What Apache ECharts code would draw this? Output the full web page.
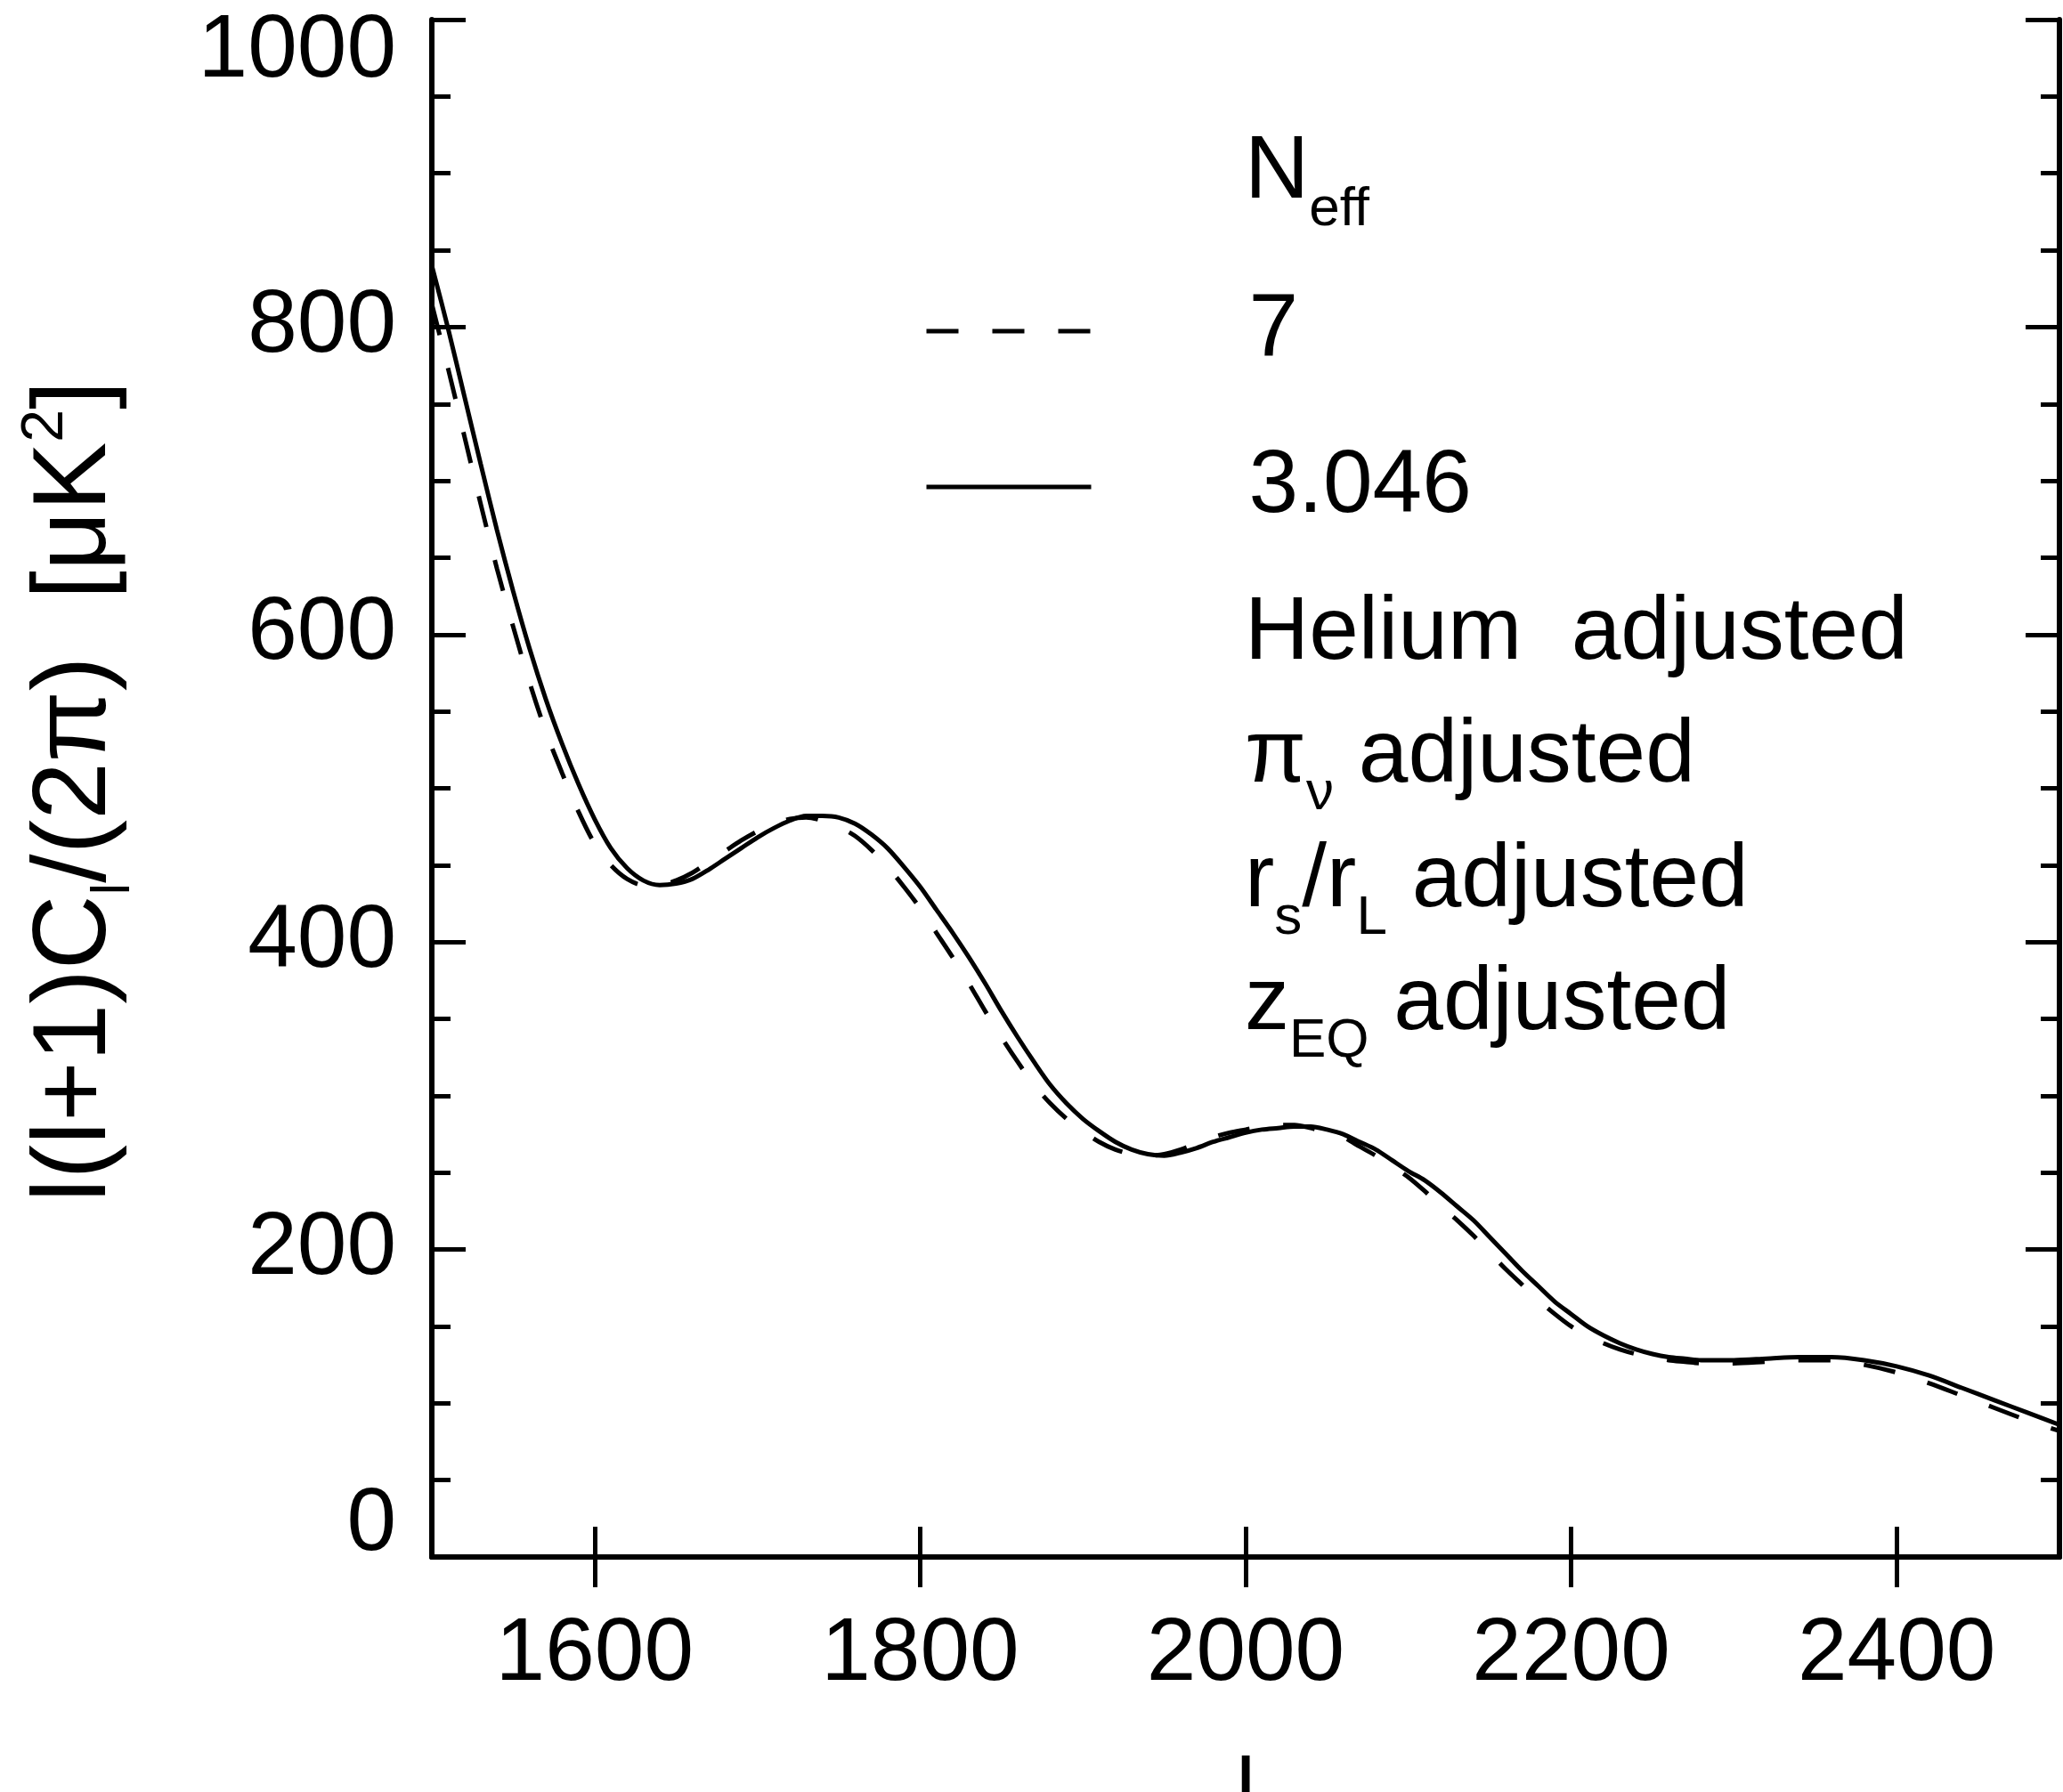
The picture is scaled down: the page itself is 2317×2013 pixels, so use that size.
<!DOCTYPE html>
<html>
<head>
<meta charset="utf-8">
<script src="https://cdn.jsdelivr.net/npm/echarts@6/dist/echarts.min.js"></script>
<style>
  html, body { margin: 0; padding: 0; background: #fff; }
  #chart { width: 2317px; height: 2013px; }
</style>
</head>
<body>
<div id="chart"></div>
<script>
// multipole l
const ells = [1500, 1510, 1520, 1530, 1540, 1550, 1560, 1570, 1580, 1590,
  1600, 1610, 1620, 1630, 1640, 1650, 1660, 1670, 1680, 1690,
  1700, 1710, 1720, 1730, 1740, 1750, 1760, 1770, 1780, 1790,
  1800, 1810, 1820, 1830, 1840, 1850, 1860, 1870, 1880, 1890,
  1900, 1910, 1920, 1930, 1940, 1950, 1960, 1970, 1980, 1990,
  2000, 2010, 2020, 2030, 2040, 2050, 2060, 2070, 2080, 2090,
  2100, 2110, 2120, 2130, 2140, 2150, 2160, 2170, 2180, 2190,
  2200, 2210, 2220, 2230, 2240, 2250, 2260, 2270, 2280,
  2300, 2320, 2340, 2360, 2380, 2400, 2420, 2440, 2460, 2480, 2500];

// N_eff = 3.046 (solid)
const cl3046 = [840, 799, 755, 711, 668, 628, 591, 558, 529, 503,
  480, 461, 448, 440, 437, 438, 441, 447, 454, 461,
  468, 474, 479, 482, 482, 481, 477, 470, 461, 449,
  436, 421, 406, 390, 373, 355, 338, 322, 307, 295,
  285, 277, 270, 265, 262, 261, 263, 266, 270, 273,
  276, 278, 279, 280, 280, 278, 275, 270, 265, 258,
  251, 245, 237, 228, 219, 208, 197, 186, 176, 166,
  158, 150, 144, 139, 135, 132, 130, 129, 128,
  128, 129, 130, 130, 128, 124, 118, 110, 102, 94, 86];

// N_eff = 7 (dashed)
const cl7 = [815, 773, 729, 685, 643, 605, 569, 537, 510, 485,
  464, 450, 441, 437, 437, 440, 445, 452, 459, 466,
  472, 477, 480, 481, 479, 475, 469, 460, 449, 436,
  422, 406, 390, 373, 355, 338, 322, 307, 295, 285,
  277, 270, 265, 262, 261, 262, 265, 269, 273, 276,
  278, 280, 281, 281, 279, 276, 273, 267, 261, 254,
  247, 238, 228, 219, 209, 198, 187, 177, 167, 158,
  150, 144, 139, 135, 132, 130, 128, 127, 126,
  126, 127, 128, 128, 125, 120, 113, 105, 97, 89, 82];

const xTicks = [1600, 1800, 2000, 2200, 2400];
const legendNotes = [
  { text: 'Helium  adjusted', y: 712 },
  { text: 'π{sub|ν} adjusted', y: 850 },
  { text: 'r{sub|s}/r{sub|L} adjusted', y: 990 },
  { text: 'z{sub|EQ} adjusted', y: 1128 }
];

const fontFamily = '"Liberation Sans", Arial, sans-serif';
const ink = '#000';
const richStyles = {
  sub: { fontSize: 62, padding: [84, 0, 0, 0], fontFamily, color: ink },
  sup: { fontSize: 66, padding: [0, 0, 68, 0], fontFamily, color: ink }
};

const chart = echarts.init(document.getElementById('chart'), null, { renderer: 'canvas' });

const axisLine = { show: true, lineStyle: { color: ink, width: 6 } };
const plain = v => String(v);

function xAxisCfg(pos, showLabel) {
  return {
    type: 'value', position: pos, min: 1500, max: 2500,
    axisLine: axisLine,
    axisTick: { show: true, inside: true, length: 34, customValues: xTicks, lineStyle: { color: ink, width: 5 } },
    axisLabel: {
      show: showLabel, customValues: xTicks, formatter: plain,
      margin: 74, fontSize: 100, lineHeight: 72, color: ink, fontFamily
    },
    splitLine: { show: false }
  };
}

function yAxisCfg(pos, showLabel) {
  return {
    type: 'value', position: pos, min: 0, max: 1000, interval: 200,
    axisLine: axisLine,
    axisTick: { show: true, inside: true, length: 38, lineStyle: { color: ink, width: 5 } },
    minorTick: { show: true, splitNumber: 4, length: 21, lineStyle: { color: ink, width: 5 } },
    axisLabel: {
      show: showLabel, formatter: plain, margin: 40, fontSize: 100, lineHeight: 72, color: ink, fontFamily,
      verticalAlignMinLabel: 'bottom', verticalAlignMaxLabel: 'top'
    },
    splitLine: { show: false },
    minorSplitLine: { show: false }
  };
}

const xBottom = xAxisCfg('bottom', true);
xBottom.name = 'l';
xBottom.nameLocation = 'middle';
xBottom.nameGap = 218;
xBottom.nameTextStyle = { fontSize: 100, color: ink, fontFamily };

const option = {
  backgroundColor: '#fff',
  animation: false,
  grid: { left: 485, top: 22, right: 4, bottom: 264, containLabel: false, outerBoundsMode: 'none' },
  xAxis: [xBottom, xAxisCfg('top', false)],
  yAxis: [yAxisCfg('left', true), yAxisCfg('right', false)],
  legend: {
    data: ['7', '3.046'],
    orient: 'vertical',
    left: 1033, top: 317,
    itemWidth: 185, itemHeight: 20, itemGap: 75,
    selectedMode: false,
    itemStyle: { opacity: 0 },
    lineStyle: { width: 5 },
    textStyle: { fontSize: 100, lineHeight: 100, color: ink, fontFamily, padding: [0, 0, 0, 172] }
  },
  graphic: [
    {
      type: 'text', x: 86, y: 889, rotation: Math.PI / 2,
      style: {
        text: 'l(l+1)C{sub|l}/(2π)  [μK{sup|2}]',
        fontSize: 116, fontFamily, fill: ink,
        align: 'center', verticalAlign: 'middle',
        rich: richStyles
      }
    },
    {
      type: 'text', x: 1398, y: 194,
      style: { text: 'N{sub|eff}', fontSize: 100, fontFamily, fill: ink, align: 'left', verticalAlign: 'middle', rich: richStyles }
    }
  ].concat(legendNotes.map(n => ({
    type: 'text', x: 1398, y: n.y,
    style: { text: n.text, fontSize: 100, fontFamily, fill: ink, align: 'left', verticalAlign: 'middle', rich: richStyles }
  }))),
  series: [
    {
      name: '7', type: 'line', symbol: 'none', smooth: 0.3,
      data: ells.map((l, i) => [l, cl7[i]]),
      lineStyle: { color: ink, width: 5, type: [36, 38] },
      itemStyle: { color: ink }
    },
    {
      name: '3.046', type: 'line', symbol: 'none', smooth: 0.3,
      data: ells.map((l, i) => [l, cl3046[i]]),
      lineStyle: { color: ink, width: 5, type: 'solid' },
      itemStyle: { color: ink }
    }
  ]
};

chart.setOption(option);
window.addEventListener('resize', () => chart.resize());
</script>
</body>
</html>
